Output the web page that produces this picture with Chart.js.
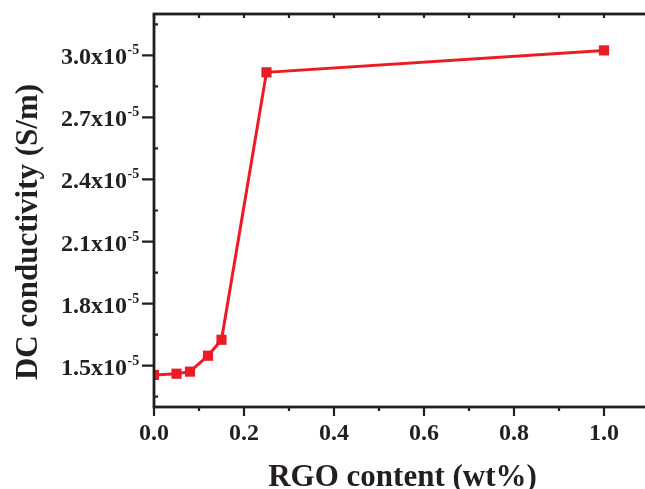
<!DOCTYPE html>
<html lang="en">
<head>
    <meta charset="UTF-8">
    <title>DC conductivity vs RGO content</title>
    <script src="https://cdn.jsdelivr.net/npm/chart.js"></script>
    <style>
        html, body { margin: 0; padding: 0; background: #fff; overflow: hidden; }
        .wrap { width: 660px; height: 489px; }
    </style>
</head>
<body>
    <div class="wrap">
        <canvas id="condChart" width="660" height="489"></canvas>
    </div>
    <script>
        // RGO content (wt%) and measured DC conductivity (S/m)
        const rgoContent = [0, 0.05, 0.08, 0.12, 0.15, 0.25, 1.0];
        const conductivity = [1.455e-5, 1.461e-5, 1.471e-5, 1.548e-5, 1.625e-5, 2.918e-5, 3.024e-5];

        // axis ticks
        const xMajor = [0, 0.2, 0.4, 0.6, 0.8, 1.0];
        const xMinor = [0.1, 0.3, 0.5, 0.7, 0.9];
        const yMajor = [1.5e-5, 1.8e-5, 2.1e-5, 2.4e-5, 2.7e-5, 3.0e-5];
        const yMinor = [1.35e-5, 1.65e-5, 1.95e-5, 2.25e-5, 2.55e-5, 2.85e-5, 3.15e-5];

        const ink = '#231f20';
        const red = '#ec1c24';
        const serif = '"Liberation Serif", "Times New Roman", serif';

        // frame, tick marks, y labels with superscript exponent, axis titles
        const framePlugin = {
            id: 'frame',
            afterDraw(chart) {
                const ctx = chart.ctx;
                const a = chart.chartArea;
                const xs = chart.scales.x;
                const ys = chart.scales.y;
                ctx.save();
                ctx.strokeStyle = ink;
                ctx.lineWidth = 2.8;
                ctx.strokeRect(a.left, a.top, a.right - a.left, a.bottom - a.top);

                ctx.lineWidth = 2.2;
                ctx.beginPath();
                xMajor.forEach(v => {
                    const px = xs.getPixelForValue(v);
                    ctx.moveTo(px, a.bottom);
                    ctx.lineTo(px, a.bottom + 9);
                    ctx.moveTo(px, a.top);
                    ctx.lineTo(px, a.top + 4);
                });
                xMinor.forEach(v => {
                    const px = xs.getPixelForValue(v);
                    ctx.moveTo(px, a.bottom);
                    ctx.lineTo(px, a.bottom + 4);
                    ctx.moveTo(px, a.top);
                    ctx.lineTo(px, a.top + 4);
                });
                yMajor.forEach(v => {
                    const py = ys.getPixelForValue(v);
                    ctx.moveTo(a.left, py);
                    ctx.lineTo(a.left - 12, py);
                });
                yMinor.forEach(v => {
                    const py = ys.getPixelForValue(v);
                    ctx.moveTo(a.left, py);
                    ctx.lineTo(a.left + 4, py);
                });
                ctx.stroke();

                // y tick labels: "3.0x10" with a raised "-5"
                ctx.fillStyle = ink;
                yMajor.forEach(v => {
                    const py = ys.getPixelForValue(v);
                    ctx.font = 'bold 24px ' + serif;
                    ctx.textAlign = 'right';
                    ctx.textBaseline = 'alphabetic';
                    ctx.fillText((v * 1e5).toFixed(1) + 'x10', 127, py + 9);
                    ctx.font = 'bold 14px ' + serif;
                    ctx.textAlign = 'left';
                    ctx.fillText('-5', 127.5, py - 1);
                });

                // axis titles
                ctx.font = 'bold 31px ' + serif;
                ctx.textAlign = 'center';
                ctx.textBaseline = 'alphabetic';
                ctx.fillText('RGO content (wt%)', (a.left + a.right) / 2 + 1, 486);
                ctx.translate(36.5, 232);
                ctx.rotate(-Math.PI / 2);
                ctx.fillText('DC conductivity (S/m)', 0, 0);
                ctx.restore();
            }
        };

        const ctxLine = document.getElementById('condChart').getContext('2d');
        new Chart(ctxLine, {
            type: 'line',
            data: {
                labels: rgoContent,
                datasets: [{
                    data: rgoContent.map((x, i) => ({ x: x, y: conductivity[i] })),
                    borderColor: red,
                    backgroundColor: red,
                    borderWidth: 3,
                    pointStyle: 'rect',
                    pointRadius: 7.2,
                    pointBorderWidth: 0,
                    tension: 0
                }]
            },
            options: {
                responsive: false,
                animation: false,
                layout: { padding: { left: 0, top: 14, right: 11, bottom: 0 } },
                plugins: { legend: { display: false }, tooltip: { enabled: false } },
                scales: {
                    x: {
                        type: 'linear',
                        min: 0,
                        max: 1.1,
                        grid: { display: false, drawTicks: false },
                        border: { display: false },
                        ticks: {
                            stepSize: 0.2,
                            includeBounds: false,
                            padding: 12,
                            color: ink,
                            font: { family: serif, size: 24, weight: 'bold' },
                            maxRotation: 0,
                            callback: v => v.toFixed(1)
                        },
                        afterFit: s => { s.height = 82; }
                    },
                    y: {
                        min: 1.3e-5,
                        max: 3.2e-5,
                        grid: { display: false, drawTicks: false },
                        border: { display: false },
                        ticks: { display: false },
                        afterFit: s => { s.width = 154; }
                    }
                }
            },
            plugins: [framePlugin]
        });
    </script>
</body>
</html>
